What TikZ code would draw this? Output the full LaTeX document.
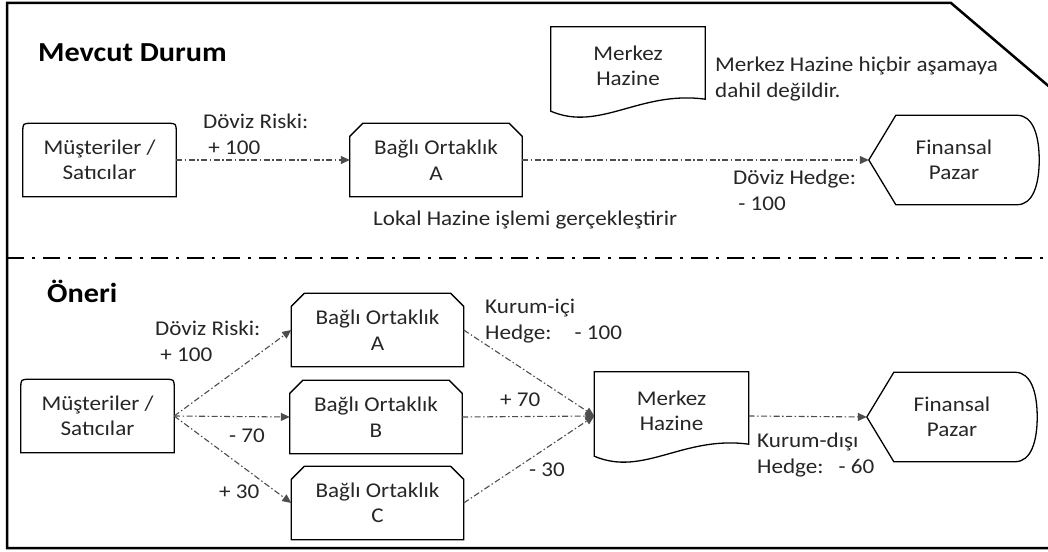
\documentclass[tikz,border=0pt]{standalone}
\usepackage{fontspec}
\setmainfont{Carlito}[FakeStretch=1.1]
\usetikzlibrary{arrows.meta}
\definecolor{txt}{HTML}{262626}
\definecolor{flowc}{HTML}{4D4D4D}

\begin{document}
\begin{tikzpicture}[x=1pt,y=-1pt,
    every node/.style={font=\fontsize{21}{25.5}\selectfont, text=txt},
    musbox/.style={minimum width=153pt, minimum height=73pt, inner sep=0pt, align=center},
    bagbox/.style={minimum width=172pt, minimum height=73pt, inner sep=0pt, align=center},
    merkbox/.style={minimum width=154pt, minimum height=78pt, inner sep=0pt, align=center},
    finbox/.style={minimum width=170pt, minimum height=89pt, inner sep=0pt, align=center},
    outline/.style={draw=black, line width=1.3pt},
    flow/.style={draw=flowc, line width=1.1pt, dash pattern=on 6pt off 2.5pt on 1.5pt off 2.5pt,
      -{Triangle[length=9pt,width=8pt]}},
    lbl/.style={anchor=base west, inner sep=0pt, align=left},
    title/.style={anchor=base west, inner sep=0pt, text=black, font=\bfseries\fontsize{27.5}{34}\selectfont}]
  \useasboundingbox[fill=white] (0,0) rectangle (1048,551);
  \draw[line width=2.5pt] (1052,89) -- (951,3) -- (7,3) -- (7,548) -- (1052,548);
  \draw[line width=2.5pt, dash pattern=on 17pt off 8pt on 3pt off 8pt] (7,258) -- (1052,258);

  \node[title] (mevcut) at (38,62) {Mevcut Durum};
  \node[title] (oneri) at (47,302) {Öneri};

  \node[musbox] (mus1) at (99.5,160) {Müşteriler /\\Satıcılar};
  \node[bagbox] (bagA1) at (436,160) {Bağlı Ortaklık\\A};
  \node[merkbox] (merk1) at (628,66) {Merkez\\Hazine};
  \node[finbox] (fin1) at (954,160) {Finansal\\Pazar};

  \node[musbox] (mus2) at (97.5,416) {Müşteriler /\\Satıcılar};
  \node[bagbox] (bagA2) at (377.5,330) {Bağlı Ortaklık\\A};
  \node[bagbox] (bagB2) at (376,417) {Bağlı Ortaklık\\B};
  \node[bagbox] (bagC2) at (377.5,503) {Bağlı Ortaklık\\C};
  \node[merkbox] (merk2) at (671.5,411) {Merkez\\Hazine};
  \node[finbox] (fin2) at (952,417) {Finansal\\Pazar};

  \foreach \n in {mus1,mus2}
    \draw[outline] (\n.south west) -- ([yshift=-9pt]\n.north west) .. controls (\n.north west) .. ([xshift=9pt]\n.north west)
      -- ([xshift=-9pt]\n.north east) .. controls (\n.north east) .. ([yshift=-9pt]\n.north east) -- (\n.south east) -- cycle;
  \foreach \n in {bagA1,bagA2,bagB2,bagC2}
    \draw[outline] (\n.south west) -- ([yshift=-13pt]\n.north west) -- ([xshift=13pt]\n.north west)
      -- ([xshift=-13pt]\n.north east) -- ([yshift=-13pt]\n.north east) -- (\n.south east) -- cycle;
  \foreach \n in {merk1,merk2}
    \draw[outline] ([yshift=-6pt]\n.south west) -- (\n.north west) -- (\n.north east) -- ([yshift=6pt]\n.south east)
      .. controls ([xshift=-65pt,yshift=15pt]\n.south east) and ([xshift=49pt,yshift=-27pt]\n.south west) .. ([yshift=-6pt]\n.south west) -- cycle;
  \foreach \n in {fin1,fin2}
    \draw[outline] (\n.west) -- ([xshift=27pt]\n.north west) -- ([xshift=-22pt]\n.north east)
      .. controls ([xshift=-6pt]\n.north east) and ([yshift=24pt]\n.east) .. (\n.east)
      .. controls ([yshift=-24pt]\n.east) and ([xshift=-6pt]\n.south east) .. ([xshift=-22pt]\n.south east)
      -- ([xshift=27pt]\n.south west) -- cycle;

  \draw[flow] (mus1.east) -- (bagA1.west);
  \draw[flow] (bagA1.east) -- (fin1.west);

  \coordinate (hubL) at ([yshift=-5pt]merk2.west);
  \coordinate (hubR) at ([yshift=-5pt]merk2.east);
  \draw[flow] (mus2.east) -- (bagA2.west);
  \draw[flow] (mus2.east) -- (bagB2.west);
  \draw[flow] (mus2.east) -- (bagC2.west);
  \draw[flow] (bagA2.east) -- (hubL);
  \draw[flow] (bagB2.east) -- (hubL);
  \draw[flow] (bagC2.east) -- (hubL);
  \draw[flow] (hubR) -- (fin2.west);

  \node[lbl] (riskA) at (203,154) {Döviz Riski:\\\ + 100};
  \node[lbl] (hedgeA) at (733,210) {Döviz Hedge:\\\ - 100};
  \node[lbl] (lokal) at (373,225) {Lokal Hazine işlemi gerçekleştirir};
  \node[lbl] (note) at (715,97) {Merkez Hazine hiçbir aşamaya\\dahil değildir.};

  \node[lbl] (riskB) at (155,361) {Döviz Riski:\\\ + 100};
  \node[lbl] (m70) at (229,442) {- 70};
  \node[lbl] (p30) at (219,498) {+ 30};
  \node[lbl] (ici) at (485,339) {Kurum-içi\\Hedge:\hspace{23pt}- 100};
  \node[lbl] (p70) at (500,406) {+ 70};
  \node[lbl] (m30) at (529,476) {- 30};
  \node[lbl] (disi) at (757,473) {Kurum-dışı\\Hedge:\hspace{15pt}- 60};
\end{tikzpicture}
\end{document}
